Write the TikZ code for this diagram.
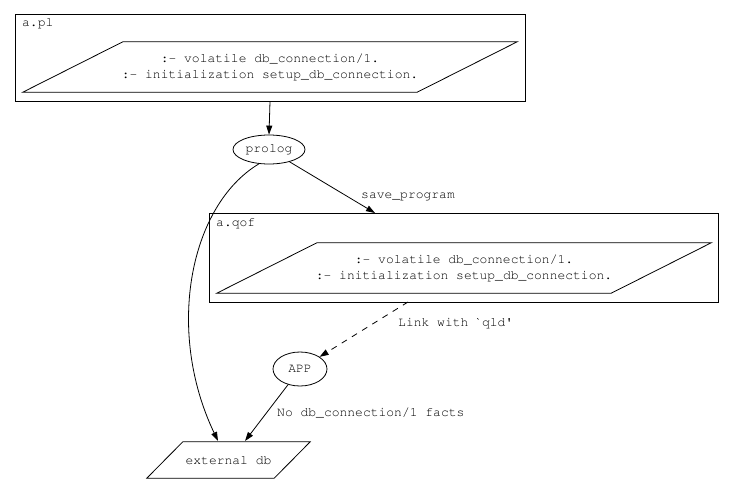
\documentclass[tikz,border=0pt]{standalone}
\usepackage[T1]{fontenc}
\usepackage{courier}
\usepackage{tikz}
\usetikzlibrary{positioning, arrows.meta, shapes.geometric}
\tikzset{
  gvfont/.style={font=\ttfamily\fontsize{13}{16}\selectfont},
  filebox/.style={draw, line width=0.8pt, inner sep=0pt},
  codebox/.style={minimum width=394pt, minimum height=50pt, inner sep=0pt, gvfont, align=center},
  dbbox/.style={minimum width=127pt, minimum height=36pt, inner sep=0pt, gvfont},
  slant/.style={line width=0.8pt},
  procnode/.style={draw, line width=0.8pt, ellipse, inner sep=0pt, gvfont},
  boxlabel/.style={gvfont, anchor=north west, inner sep=0pt},
  edgelabel/.style={gvfont, anchor=west, inner sep=0pt},
  gvedge/.style={line width=0.8pt, -{Triangle[length=9pt,width=6pt]}},
}
\begin{document}
\begin{tikzpicture}[x=1pt, y=-1pt]
  \useasboundingbox (0,0) rectangle (732,493);
  % a.pl
  \node[filebox, minimum width=510pt, minimum height=87pt] (plbox) at (270,57.5) {};
  \node[boxlabel] (pllabel) at (22,18) {a.pl};
  \node[codebox] (plcode) at (270,67) {:- volatile db\_connection/1.\\:- initialization setup\_db\_connection.};
  \draw[slant] ([xshift=-50pt]plcode.south west) -- ([xshift=50pt]plcode.north west)
    -- ([xshift=50pt]plcode.north east) -- ([xshift=-50pt]plcode.south east) -- cycle;
  % prolog
  \node[procnode, minimum width=72pt, minimum height=29pt] (prolog) at (269,149.5) {prolog};
  % a.qof
  \node[filebox, minimum width=509pt, minimum height=89pt] (qofbox) at (463.5,257.5) {};
  \node[boxlabel] (qoflabel) at (216,218) {a.qof};
  \node[codebox] (qofcode) at (464,268) {:- volatile db\_connection/1.\\:- initialization setup\_db\_connection.};
  \draw[slant] ([xshift=-50pt]qofcode.south west) -- ([xshift=50pt]qofcode.north west)
    -- ([xshift=50pt]qofcode.north east) -- ([xshift=-50pt]qofcode.south east) -- cycle;
  % APP and db
  \node[procnode, minimum width=54pt, minimum height=34pt] (app) at (300,369) {APP};
  \node[dbbox] (exdb) at (228.5,460) {external db};
  \draw[slant] ([xshift=-18pt]exdb.south west) -- ([xshift=18pt]exdb.north west)
    -- ([xshift=18pt]exdb.north east) -- ([xshift=-18pt]exdb.south east) -- cycle;
  \coordinate (savein) at (375,213);
  \coordinate (linkout) at (408,302);
  \coordinate (dbin1) at (218,441);
  \coordinate (dbin2) at (245,441);
  % edges
  \draw[gvedge] (plbox.south) -- (prolog.north);
  \draw[gvedge] (prolog) -- (savein);
  \node[edgelabel] (savelabel) at (361,197) {save\_program};
  \draw[gvedge, dashed, dash pattern=on 6pt off 6pt] (linkout) -- (app);
  \node[edgelabel] (linklabel) at (398,323) {Link with \textasciigrave qld\textquotesingle};
  \draw[gvedge] (app) -- (dbin2);
  \node[edgelabel] (nolabel) at (277,413) {No db\_connection/1 facts};
  \draw[gvedge] (prolog.235) .. controls (190,205) and (165,330) .. (dbin1);
\end{tikzpicture}
\end{document}
